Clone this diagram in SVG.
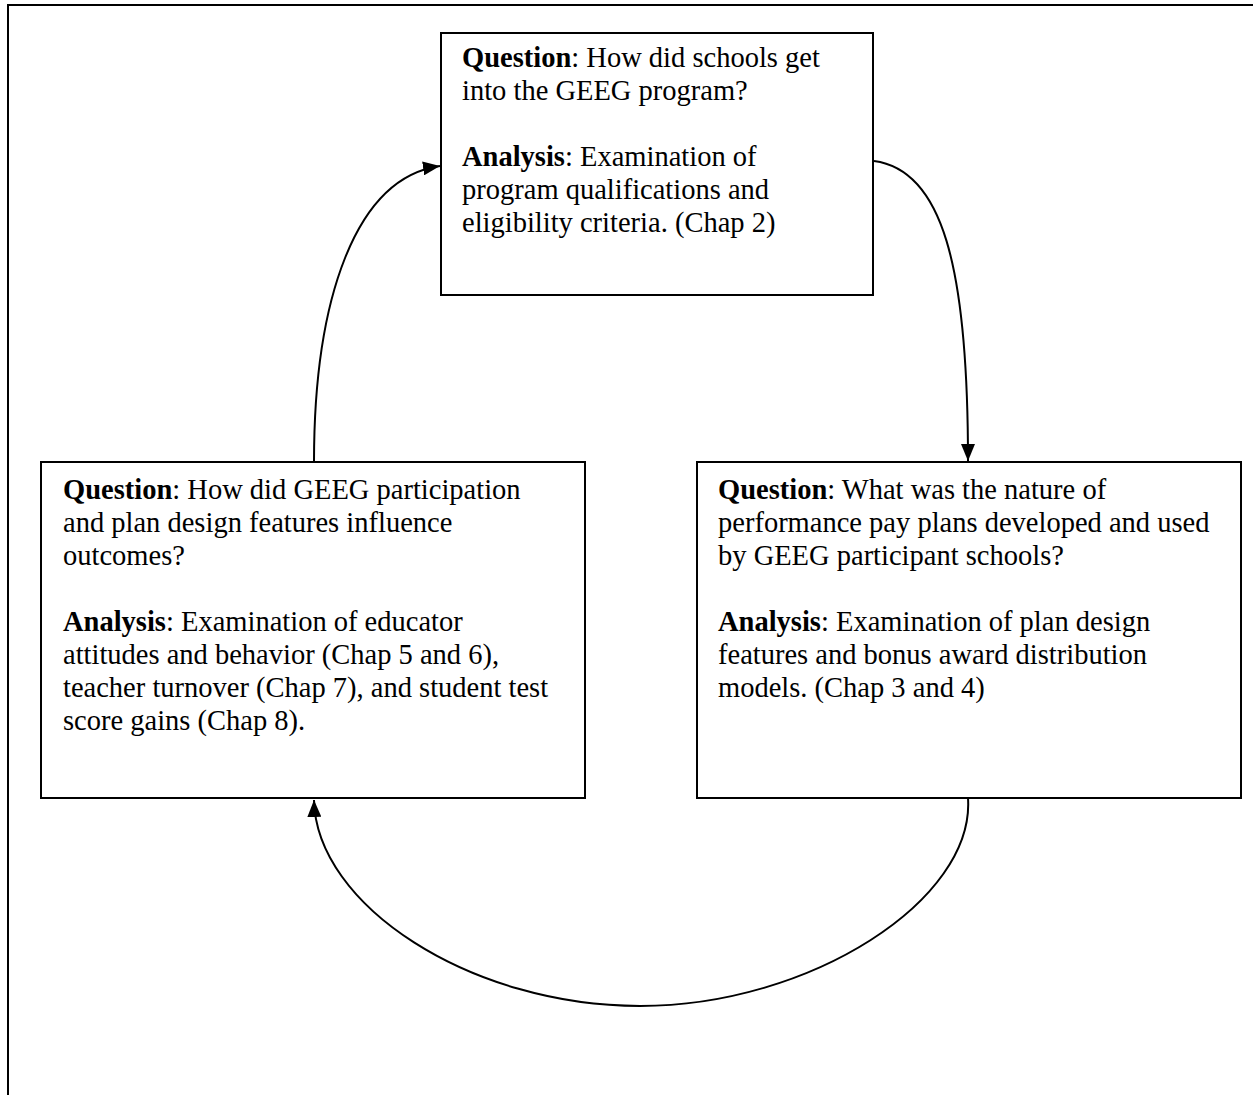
<svg xmlns="http://www.w3.org/2000/svg" width="1253" height="1095" viewBox="0 0 1253 1095">
<style>
.box{fill:#fff;stroke:#000;stroke-width:2}
.frame{fill:none;stroke:#000;stroke-width:2}
.conn{fill:none;stroke:#000;stroke-width:2}
text{font-family:"Liberation Serif","Times New Roman",serif;font-size:28.5px;fill:#000}
.b{font-weight:bold}
</style>
<defs>
<marker id="arrow" markerUnits="userSpaceOnUse" markerWidth="18" markerHeight="14" refX="17" refY="7" orient="auto">
<path d="M0,0 L17,7 L0,14 Z" fill="#000"/>
</marker>
</defs>
<rect width="1253" height="1095" fill="#fff"/>
<path class="frame" d="M8,1095 L8,5 L1253,5"/>
<g id="connectors">
<path class="conn" d="M314,462 C314,300 355,178 440,166" marker-end="url(#arrow)"/>
<path class="conn" d="M874,161 C942,170 968,265 968,461" marker-end="url(#arrow)"/>
<path class="conn" d="M968,798 C975,900 810,1006 640,1006 C470,1006 316,905 314,800" marker-end="url(#arrow)"/>
</g>
<g id="node-top">
<rect class="box" x="441" y="33" width="432" height="262"/>
<text x="462" y="67"><tspan class="b">Question</tspan>: How did schools get</text>
<text x="462" y="100">into the GEEG program?</text>
<text x="462" y="166"><tspan class="b">Analysis</tspan>: Examination of</text>
<text x="462" y="199">program qualifications and</text>
<text x="462" y="232">eligibility criteria. (Chap 2)</text>
</g>
<g id="node-left">
<rect class="box" x="41" y="462" width="544" height="336"/>
<text x="63" y="499"><tspan class="b">Question</tspan>: How did GEEG participation</text>
<text x="63" y="532">and plan design features influence</text>
<text x="63" y="565">outcomes?</text>
<text x="63" y="631"><tspan class="b">Analysis</tspan>: Examination of educator</text>
<text x="63" y="664">attitudes and behavior (Chap 5 and 6),</text>
<text x="63" y="697">teacher turnover (Chap 7), and student test</text>
<text x="63" y="730">score gains (Chap 8).</text>
</g>
<g id="node-right">
<rect class="box" x="697" y="462" width="544" height="336"/>
<text x="718" y="499"><tspan class="b">Question</tspan>: What was the nature of</text>
<text x="718" y="532">performance pay plans developed and used</text>
<text x="718" y="565">by GEEG participant schools?</text>
<text x="718" y="631"><tspan class="b">Analysis</tspan>: Examination of plan design</text>
<text x="718" y="664">features and bonus award distribution</text>
<text x="718" y="697">models. (Chap 3 and 4)</text>
</g>
</svg>
